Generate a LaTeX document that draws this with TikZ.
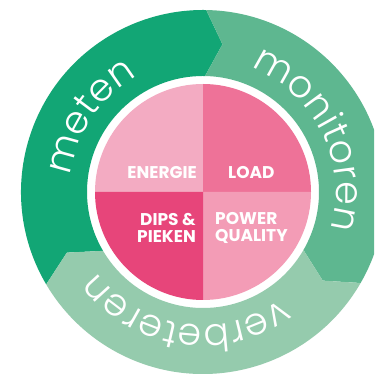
\documentclass[tikz,border=0pt]{standalone}
\usepackage{fontspec}
\setmainfont{Poppins}
\IfFontExistsTF{Poppins Light}{\newfontfamily\ringfont{Poppins Light}}{\newfontfamily\ringfont{Poppins}}
\usetikzlibrary{decorations.text}
\definecolor{gMeten}{RGB}{18,166,117}
\definecolor{gMon}{RGB}{94,183,144}
\definecolor{gVer}{RGB}{149,203,173}
\definecolor{pEn}{RGB}{243,171,194}
\definecolor{pLoad}{RGB}{238,114,152}
\definecolor{pDips}{RGB}{231,69,122}
\definecolor{pPow}{RGB}{243,156,182}
\newcommand\ringseg[3]{%
  \fill[#1] (#2:182) arc[start angle=#2, end angle=#3, radius=182]
    -- ({#3-6.5}:149) -- (#3:116) arc[start angle=#3, end angle=#2, radius=116]
    -- ({#2-6.5}:149) -- cycle;}
\tikzset{
  quad label/.style={text=white, inner sep=0pt, font=\bfseries\fontsize{17}{17.5}\selectfont},
  ring text/.style={decorate, decoration={text along path, text color=white,
    text align=fit to path, text={|\ringfont\fontsize{38}{38}\selectfont|#1}}}
}
\begin{document}
\begin{tikzpicture}[x=1pt,y=1pt]
\useasboundingbox (0,0) rectangle (374,374);
\clip (0,0) rectangle (374,374);
\fill[white] (0,0) rectangle (374,374);
\begin{scope}[shift={(203,182)}]
  \coordinate (O) at (0,0);
  \ringseg{gMeten}{210.5}{89}
  \ringseg{gMon}{89}{-30}
  \ringseg{gVer}{-30}{-149.5}
  \fill[pEn] (O) -- (180:108) arc[start angle=180, end angle=90, radius=108] -- cycle;
  \fill[pLoad] (O) -- (90:108) arc[start angle=90, end angle=0, radius=108] -- cycle;
  \fill[pPow] (O) -- (0:108) arc[start angle=0, end angle=-90, radius=108] -- cycle;
  \fill[pDips] (O) -- (-90:108) arc[start angle=-90, end angle=-180, radius=108] -- cycle;
  \path[ring text=meten] (173:133) arc[start angle=173, end angle=121, radius=133];
  \path[ring text=monitoren] (69:133) arc[start angle=69, end angle=-16, radius=133];
  \path[ring text=verbeteren] (-54:133) arc[start angle=-54, end angle=-141, radius=133];
\end{scope}
\node[quad label, anchor=east] (energie) at (197,201) {ENERGIE};
\node[quad label, anchor=west] (load) at (228,201) {LOAD};
\node[quad label, anchor=east, align=right] (dips) at (196,146) {DIPS \&\\PIEKEN};
\node[quad label, anchor=west, align=left] (power) at (215,146) {POWER\\QUALITY};
\end{tikzpicture}
\end{document}
